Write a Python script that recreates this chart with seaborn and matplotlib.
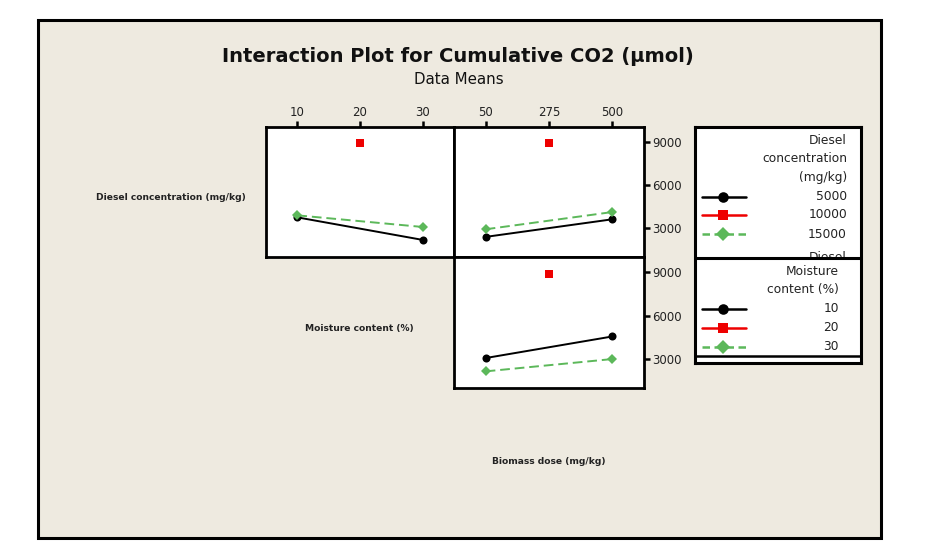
import matplotlib
matplotlib.use("Agg")
import matplotlib.pyplot as plt
from matplotlib.patches import Rectangle
from matplotlib.lines import Line2D
import seaborn as sns
import pandas as pd

sns.set_theme(style="white")
plt.rcParams['font.family'] = ['DejaVu Sans']

# ---- data (means) ----
moisture_ticks = [10, 20, 30]
biomass_ticks = [50, 275, 500]
y_ticks = [3000, 6000, 9000]

# Diesel concentration vs moisture content
dm_x = [10, 30, 20, 10, 30]
dm_group = ["5000", "5000", "10000", "15000", "15000"]
dm_y = [3760, 2190, 8950, 3900, 3090]

# Diesel concentration vs biomass dose
db_x = [50, 500, 275, 50, 500]
db_group = ["5000", "5000", "10000", "15000", "15000"]
db_y = [2400, 3625, 8950, 2930, 4130]

# Moisture content vs biomass dose
mb_x = [50, 500, 275, 50, 500]
mb_group = ["10", "10", "20", "30", "30"]
mb_y = [3070, 4560, 8900, 2150, 3000]

diesel_labels = ["5000", "10000", "15000"]
moisture_labels = ["10", "20", "30"]

colors = ["black", "#ee0000", "#5cb85a"]
markers = ["o", "s", "D"]
dashes = ["", "", (5, 2.5)]
msizes = [5.6, 5.0, 5.0]

W, H = 944, 549
fig = plt.figure(figsize=(W / 100, H / 100), dpi=100)
fig.patch.set_facecolor("white")

def fx(px):
    return px / W

def fy(py):
    return 1 - py / H

bg = Rectangle((fx(37.5), fy(538)), fx(881) - fx(37.5), fy(20) - fy(538),
               transform=fig.transFigure, facecolor="#eeeae0", edgecolor="black",
               linewidth=2.2, zorder=-10)
fig.patches.append(bg)

def make_ax(x0, x1, y0, y1):
    ax = fig.add_axes([fx(x0), fy(y1), fx(x1) - fx(x0), fy(y0) - fy(y1)])
    ax.set_facecolor("white")
    for s in ax.spines.values():
        s.set_visible(True)
        s.set_color("black")
        s.set_linewidth(2)
    return ax

ax_tl = make_ax(266, 454, 127, 257)
ax_tr = make_ax(454, 644, 127, 257)
ax_br = make_ax(454, 644, 257, 388)

def draw(ax, x, g, y, labels):
    df = pd.DataFrame({"x": x, "g": g, "y": y})
    pal = dict(zip(labels, colors))
    mk = dict(zip(labels, markers))
    ds = dict(zip(labels, dashes))
    sns.lineplot(data=df, x="x", y="y", hue="g", style="g", hue_order=labels,
                 style_order=labels, palette=pal, markers=mk, dashes=ds,
                 markersize=5.8, markeredgewidth=0, linewidth=1.4,
                 legend=False, ax=ax, estimator=None, sort=True)
    for ln in ax.lines:
        if ln.get_marker() == "s":
            ln.set_markersize(5.4)
        elif ln.get_marker() == "D":
            ln.set_markersize(5.5)
    ax.set_xlabel("")
    ax.set_ylabel("")
    ax.set_ylim(1000, 10050)

draw(ax_tl, dm_x, dm_group, dm_y, diesel_labels)
draw(ax_tr, db_x, db_group, db_y, diesel_labels)
draw(ax_br, mb_x, mb_group, mb_y, moisture_labels)

ax_tl.set_xlim(5, 35)
ax_tr.set_xlim(-62.5, 612.5)
ax_br.set_xlim(-62.5, 612.5)

tick_kw = dict(direction="out", length=4, width=1.8, color="black",
               labelsize=8.5, labelcolor="#222222", pad=2)

# top-left
ax_tl.set_xticks(moisture_ticks)
ax_tl.set_xticklabels([str(v) for v in moisture_ticks])
ax_tl.xaxis.tick_top()
ax_tl.tick_params(axis="x", which="both", top=True, bottom=False, **tick_kw)
ax_tl.set_yticks([])

# top-right
ax_tr.set_xticks(biomass_ticks)
ax_tr.set_xticklabels([str(v) for v in biomass_ticks])
ax_tr.xaxis.tick_top()
ax_tr.tick_params(axis="x", which="both", top=True, bottom=False, **tick_kw)
ax_tr.set_yticks(y_ticks)
ax_tr.set_yticklabels([str(v) for v in y_ticks])
ax_tr.yaxis.tick_right()
ax_tr.tick_params(axis="y", right=True, left=False, **tick_kw)

# bottom-right
ax_br.set_xticks([])
ax_br.set_yticks(y_ticks)
ax_br.set_yticklabels([str(v) for v in y_ticks])
ax_br.yaxis.tick_right()
ax_br.tick_params(axis="y", right=True, left=False, **tick_kw)

# titles
fig.text(fx(458), fy(57), "Interaction Plot for Cumulative CO2 (µmol)",
         ha="center", va="center", fontsize=14, fontweight="bold", color="#111111")
fig.text(fx(459), fy(80), "Data Means", ha="center", va="center",
         fontsize=10.8, color="#111111")

# factor labels
lab_kw = dict(ha="center", va="center", fontsize=6.6, fontweight="bold", color="#222222")
fig.text(fx(170.5), fy(198), "Diesel concentration (mg/kg)", **lab_kw)
fig.text(fx(359), fy(329), "Moisture content (%)", **lab_kw)
fig.text(fx(549), fy(462), "Biomass dose (mg/kg)", **lab_kw)

# legend box
lg = fig.add_axes([fx(695), fy(363), fx(861) - fx(695), fy(127) - fy(363)])
lg.set_facecolor("white")
lg.set_xlim(695, 861)
lg.set_ylim(363, 127)
lg.set_xticks([])
lg.set_yticks([])
for s in lg.spines.values():
    s.set_color("black")
    s.set_linewidth(2.2)
    s.set_zorder(10)

txt_kw = dict(ha="right", va="center", fontsize=8.8, color="#222222")

# partially hidden repeated title, covered by the second legend section
lg.text(847, 261.5, "Diesel", zorder=2, ha="right", va="baseline",
        fontsize=8.8, color="#222222")
lg.add_patch(Rectangle((695, 258), 166, 105, facecolor="white", edgecolor="none", zorder=4))
lg.axhline(258, color="black", linewidth=2.2, zorder=8)
lg.axhline(356.5, color="black", linewidth=1.8, zorder=8)

def legend_block(title_lines, title_ys, labels, label_ys, xr):
    for t, yy in zip(title_lines, title_ys):
        lg.text(xr, yy, t, zorder=6, **txt_kw)
    for i, (lab, yy) in enumerate(zip(labels, label_ys)):
        lg.add_line(Line2D([702, 746], [yy, yy], color=colors[i], linewidth=1.8,
                           linestyle="-" if i < 2 else (0, (3, 1.8)), zorder=6))
        lg.add_line(Line2D([723], [yy], color=colors[i], marker=markers[i],
                           markersize=msizes[i] + 2, markeredgewidth=0, zorder=7))
        lg.text(xr, yy, lab, zorder=6, **txt_kw)

legend_block(["Diesel", "concentration", "(mg/kg)"], [141, 159, 178],
             diesel_labels, [197, 215, 234], 847)
legend_block(["Moisture", "content (%)"], [272, 290],
             moisture_labels, [309, 328, 347], 839)

fig.savefig("out.png", dpi=100, facecolor="white")
